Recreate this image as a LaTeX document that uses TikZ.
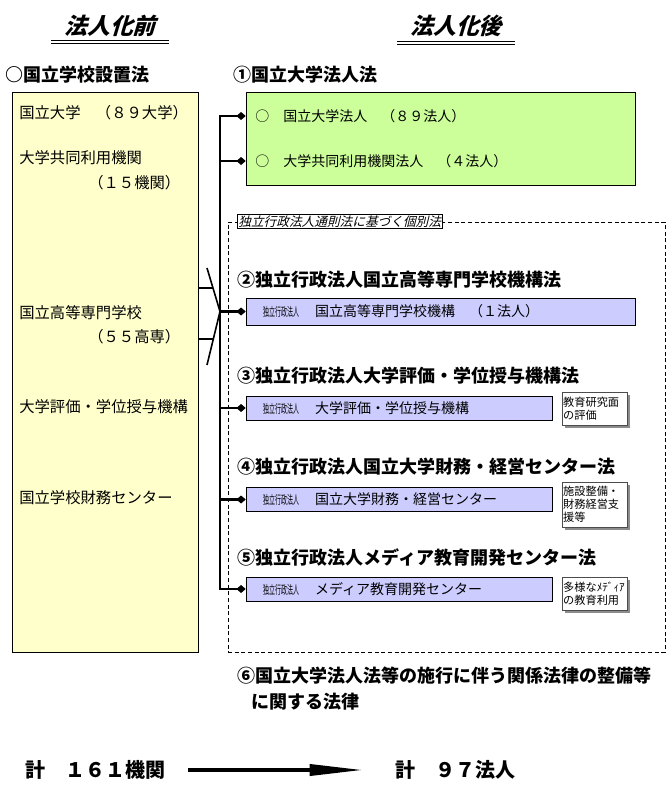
\documentclass[tikz,border=0pt]{standalone}
\usepackage{fontspec}
\setmainfont{Noto Sans CJK JP}[AutoFakeSlant=0.25]
\newfontfamily\narrowjp{Noto Sans CJK JP}[FakeStretch=0.5]
\newfontfamily\obliquejp{Noto Sans CJK JP}[FakeSlant=0.3, BoldFeatures={FakeSlant=0.3}]
\usepackage{tikz}
\usetikzlibrary{arrows.meta, positioning, shadows, calc}
\definecolor{oldfill}{HTML}{FFFFCC}
\definecolor{unifill}{HTML}{CCFF99}
\definecolor{iaafill}{HTML}{CCCCFF}

\begin{document}
\begin{tikzpicture}[
    x=0.75pt, y=-0.75pt,
    font=\fontsize{10.5pt}{12pt}\selectfont,
    headline/.style={font=\obliquejp\fontsize{17pt}{20pt}\selectfont\bfseries, inner sep=0pt},
    underline/.style={double, double distance=1.5pt, line width=0.75pt},
    lawtitle/.style={anchor=west, inner sep=0pt, font=\fontsize{13.5pt}{19.5pt}\selectfont\bfseries},
    entry/.style={anchor=west, inner sep=0pt, font=\fontsize{11.5pt}{13pt}\selectfont},
    unientry/.style={anchor=west, inner sep=0pt, font=\fontsize{10.5pt}{12pt}\selectfont},
    oldbox/.style={rectangle, draw, fill=oldfill, minimum width=139.5pt, minimum height=420pt},
    unibox/.style={rectangle, draw, fill=unifill, minimum width=291.75pt, minimum height=69.75pt},
    iaabox/.style={rectangle, draw, fill=iaafill, align=left, inner xsep=12.75pt, inner ysep=0pt, minimum height=18pt},
    notebox/.style={rectangle, draw=black!70, fill=white, align=left, text width=47pt, inner xsep=0.875pt,
        font=\fontsize{8.4pt}{9.6pt}\selectfont,
        drop shadow={shadow xshift=2.5pt, shadow yshift=-2.5pt, fill=black!45, opacity=1}},
    frame/.style={rectangle, draw, dash pattern=on 3pt off 2pt, line width=0.6pt, minimum width=327.75pt, minimum height=322.5pt},
    tag/.style={rectangle, draw, fill=white, inner sep=1pt, line width=0.6pt, font=\fontsize{9.5pt}{10pt}\selectfont\itshape},
    trunk/.style={line width=2.2pt},
    branch/.style={line width=2.2pt, -{Diamond[length=7pt, width=6pt]}},
    merge/.style={line width=1.2pt},
    total/.style={anchor=west, inner sep=0pt, font=\fontsize{15pt}{18pt}\selectfont\bfseries},
    totalarrow/.style={line width=3.5pt, -{Triangle[length=42pt, width=8pt]}, shorten <=17pt, shorten >=22pt}
]
\useasboundingbox (0,0) rectangle (670,796);

% column heads
\node[headline] (pre) at (110,26) {法人化前};
\node[headline] (post) at (456,26) {法人化後};
\draw[underline] ([xshift=-10pt, yshift=-4pt]pre.south west) -- ([xshift=10pt, yshift=-4pt]pre.south east);
\draw[underline] ([xshift=-10pt, yshift=-4pt]post.south west) -- ([xshift=10pt, yshift=-4pt]post.south east);

\node[lawtitle] (oldlaw) at (5,75) {○国立学校設置法};
\node[lawtitle] (law1) at (233,75) {①国立大学法人法};

% before incorporation
\node[oldbox] (old) at (105,372) {};
\node[entry] (o1) at (19,113) {国立大学　（８９大学）};
\node[entry] (o2) at (19,158) {大学共同利用機関};
\node[entry] (o2n) at (88,183) {（１５機関）};
\node[entry] (o3) at (19,313) {国立高等専門学校};
\node[entry] (o3n) at (88,337) {（５５高専）};
\node[entry] (o4) at (19,407) {大学評価・学位授与機構};
\node[entry] (o5) at (19,498) {国立学校財務センター};

% national university corporations
\node[unibox] (uni) at (440.5,138.5) {};
\node[unientry] (u1) at (255,116) {○　国立大学法人　（８９法人）};
\node[unientry] (u2) at (255,161) {○　大学共同利用機関法人　（４法人）};

% individual laws
\node[frame] (indiv) at (446.5,437) {};
\node[tag, anchor=west] (indivtag) at ([xshift=6.75pt]indiv.north west) {独立行政法人通則法に基づく個別法};

\node[lawtitle] (law2) at (237,280) {②独立行政法人国立高等専門学校機構法};
\node[iaabox, minimum width=291.75pt, text width=266.25pt, minimum height=20.25pt] (kosen) at (440.5,311.5)
    {{\narrowjp\fontsize{9pt}{9pt}\selectfont 独立行政法人}\hspace{12pt}国立高等専門学校機構　（１法人）};

\node[lawtitle] (law3) at (237,376) {③独立行政法人大学評価・学位授与機構法};
\node[iaabox, minimum width=229.5pt, text width=204pt] (eval) at (399,408)
    {{\narrowjp\fontsize{9pt}{9pt}\selectfont 独立行政法人}\hspace{12pt}大学評価・学位授与機構};
\node[notebox, minimum height=24.75pt] (evalnote) at (594.5,408.5) {教育研究面\\の評価};

\node[lawtitle] (law4) at (237,467) {④独立行政法人国立大学財務・経営センター法};
\node[iaabox, minimum width=229.5pt, text width=204pt] (zaimu) at (399,499.5)
    {{\narrowjp\fontsize{9pt}{9pt}\selectfont 独立行政法人}\hspace{12pt}国立大学財務・経営センター};
\node[notebox, minimum height=33.75pt] (zaimunote) at (594.5,504.5) {施設整備・\\財務経営支\\援等};

\node[lawtitle] (law5) at (237,557) {⑤独立行政法人メディア教育開発センター法};
\node[iaabox, minimum width=229.5pt, text width=204pt] (media) at (399,589)
    {{\narrowjp\fontsize{9pt}{9pt}\selectfont 独立行政法人}\hspace{12pt}メディア教育開発センター};
\node[notebox, minimum height=24.75pt] (medianote) at (594.5,593.5) {多様なﾒﾃﾞｨｱ\\の教育利用};

\node[lawtitle, align=left, anchor=north west] (law6) at (237,667) {⑥国立大学法人法等の施行に伴う関係法律の整備等\\\hspace*{11pt}に関する法律};

% connectors
\coordinate (j1) at (220,116);
\coordinate (j2) at (220,161);
\coordinate (hub) at (220,311.5);
\coordinate (j6) at (220,589);
\coordinate (m1) at (207,268);
\coordinate (m2) at (207,365);
\coordinate (k1) at (213,288);
\coordinate (k2) at (213,339);

\draw[trunk, {Diamond[length=7pt, width=6pt]}-{Diamond[length=7pt, width=6pt]}] (j1 -| uni.west) -- (j1) -- (j6) -- (media.west);
\draw[branch] (j2) -- (j2 -| uni.west);
\draw[branch] (hub) -- (kosen.west);
\draw[branch] (hub |- eval.west) -- (eval.west);
\draw[branch] (hub |- zaimu.west) -- (zaimu.west);
\draw[merge] (m1) -- (hub) -- (m2);
\draw[merge] (old.east |- k1) -- (k1);
\draw[merge] (old.east |- k2) -- (k2);

% totals
\node[total] (sumold) at (25,770) {計　１６１機関};
\node[total] (sumnew) at (395,770) {計　９７法人};
\draw[totalarrow] (sumold) -- (sumnew);
\end{tikzpicture}
\end{document}
